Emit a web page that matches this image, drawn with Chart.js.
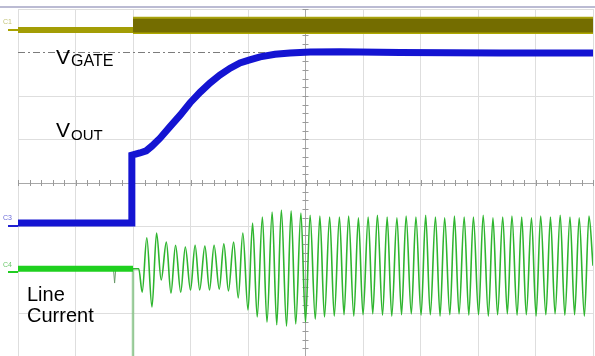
<!DOCTYPE html>
<html>
<head>
<meta charset="utf-8">
<script src="https://cdn.jsdelivr.net/npm/chart.js@4.4.1/dist/chart.umd.min.js"></script>
<style>
html, body { margin: 0; padding: 0; background: #fff; overflow: hidden; }
#wrap { position: relative; width: 595px; height: 357px; }
</style>
</head>
<body>
<div id="wrap"><canvas id="scope"></canvas></div>
<script>
// time in ms (100 ms/div), amplitude in divisions
const c1PreT = [0, 200];
const c1PreV = [3.52, 3.52];
const c1PostT = [200, 1000];
const c1HighV = [3.80, 3.80];
const c1LowV = [3.46, 3.46];

const gateRefT = [0, 1000];
const gateRefV = [3, 3];

const c3T = [0, 198, 198, 212, 223, 233, 247, 264, 282, 299, 317, 334, 351, 369, 386, 403, 421, 447, 473, 508, 560, 664, 838, 1000];
const c3V = [-0.92, -0.92, 0.64, 0.69, 0.74, 0.85, 1.03, 1.29, 1.56, 1.84, 2.09, 2.30, 2.48, 2.64, 2.76, 2.83, 2.90, 2.96, 2.99, 3.01, 3.02, 3.00, 2.99, 2.99];

const c4PreT = [0, 200];
const c4PreV = [-1.97, -1.97];
const c4SpikeT = [166, 168, 170];
const c4SpikeV = [-1.97, -2.30, -1.97];
const c4DropT = [200, 200];
const c4DropV = [-1.97, -4];

const c4PostT = [200, 210,
  216, 224, 233, 241, 249, 258, 266, 274, 283, 291, 300, 308, 316, 325, 333, 341, 350, 358,
  366, 375, 383, 391, 400, 408, 416, 425, 433, 442, 450, 458, 467, 475, 483, 492, 500, 508,
  517, 525, 533, 542, 550, 559, 567, 575, 584, 592, 600, 609, 617, 625, 634, 642, 650, 659,
  667, 675, 684, 692, 701, 709, 717, 726, 734, 742, 751, 759, 767, 776, 784, 792, 801, 809,
  818, 826, 834, 843, 851, 859, 868, 876, 884, 893, 901, 909, 918, 926, 934, 943, 951, 960,
  968, 976, 985, 993, 1000];
const c4PostV = [-1.97, -1.97,
  -2.51, -1.26, -2.85, -1.15, -2.23, -1.36, -2.53, -1.43, -2.51, -1.47, -2.46, -1.43, -2.46, -1.45, -2.46, -1.43, -2.44, -1.40,
  -2.48, -1.36, -2.64, -1.15, -2.92, -0.92, -3.08, -0.78, -3.20, -0.67, -3.26, -0.62, -3.29, -0.64, -3.24, -0.69, -3.20, -0.74,
  -3.13, -0.76, -3.08, -0.78, -3.06, -0.78, -3.03, -0.76, -3.06, -0.80, -3.03, -0.78, -3.01, -0.74, -3.04, -0.78, -3.06, -0.80,
  -3.03, -0.76, -3.01, -0.78, -3.04, -0.74, -3.03, -0.78, -3.06, -0.80, -3.03, -0.76, -3.01, -0.78, -3.04, -0.78, -3.03, -0.74,
  -3.06, -0.80, -3.03, -0.78, -3.01, -0.76, -3.04, -0.78, -3.03, -0.80, -3.06, -0.76, -3.03, -0.78, -3.01, -0.74, -3.04, -0.78,
  -3.03, -0.80, -3.06, -0.76, -1.90];

function pts(t, v) {
  return t.map((x, i) => ({ x: x, y: v[i] }));
}

function line(data, color, width, extra) {
  return Object.assign({
    data: data,
    borderColor: color,
    backgroundColor: color,
    borderWidth: width,
    pointRadius: 0,
    fill: false,
    tension: 0
  }, extra || {});
}

const scopeDecor = {
  id: 'scopeDecor',
  beforeDatasetsDraw(chart) {
    const ctx = chart.ctx;
    const xs = chart.scales.x, ys = chart.scales.y;
    const x0 = xs.getPixelForValue(500), y0 = ys.getPixelForValue(0);
    ctx.save();
    ctx.strokeStyle = '#9a9a9a';
    ctx.lineWidth = 1;
    ctx.beginPath();
    for (let t = 0; t <= 1000; t += 20) {
      const px = Math.round(xs.getPixelForValue(t)) + 0.5;
      ctx.moveTo(px, y0 - 3); ctx.lineTo(px, y0 + 3);
    }
    for (let d = -4; d <= 4.001; d += 0.2) {
      const py = Math.round(ys.getPixelForValue(d)) + 0.5;
      ctx.moveTo(x0 - 3, py); ctx.lineTo(x0 + 3, py);
    }
    ctx.stroke();
    ctx.restore();
  },
  afterDraw(chart) {
    const ctx = chart.ctx;
    ctx.save();
    // top frame line
    ctx.strokeStyle = '#a4a4c4';
    ctx.lineWidth = 1.5;
    ctx.beginPath(); ctx.moveTo(0, 7); ctx.lineTo(595, 7); ctx.stroke();

    // channel markers
    ctx.font = '7px "Liberation Sans", Arial';
    ctx.lineWidth = 2;
    [['C1', 24, 30, '#c4c47a', '#a8a200'], ['C3', 220, 226, '#6a6ad8', '#2020d0'], ['C4', 267, 272, '#6ac86a', '#22cc22']].forEach(m => {
      ctx.fillStyle = m[3];
      ctx.fillText(m[0], 3, m[1]);
      ctx.strokeStyle = m[4];
      ctx.beginPath(); ctx.moveTo(8, m[2]); ctx.lineTo(18, m[2]); ctx.stroke();
    });

    // annotations
    ctx.fillStyle = '#000';
    ctx.font = '21px "Liberation Sans", Arial';
    ctx.fillText('V', 56, 64);
    ctx.fillText('V', 56, 137);
    ctx.font = '16px "Liberation Sans", Arial';
    ctx.fillText('GATE', 71, 66);
    ctx.font = '15px "Liberation Sans", Arial';
    ctx.fillText('OUT', 71, 140);
    ctx.font = '20px "Liberation Sans", Arial';
    ctx.fillText('Line', 27, 301);
    ctx.fillText('Current', 27, 322);
    ctx.restore();
  }
};

new Chart(document.getElementById('scope'), {
  type: 'line',
  data: {
    datasets: [
      line(pts(c1PreT, c1PreV), '#a39d05', 6, { order: 1 }),
      line(pts(c1PostT, c1HighV), '#a8a20e', 2, { order: 2, fill: '+1', backgroundColor: '#746d00' }),
      line(pts(c1PostT, c1LowV), '#aea800', 3, { order: 3 }),
      line(pts(c3T, c3V), '#1414d2', 7, { order: 4 }),
      line(pts(c4PreT, c4PreV), '#1fd01f', 6, { order: 5 }),
      line(pts(c4SpikeT, c4SpikeV), '#6a9a6a', 1, { order: 6 }),
      line(pts(c4PostT, c4PostV), '#2fb52f', 1.6, { order: 7, cubicInterpolationMode: 'monotone' }),
      line(pts(c4DropT, c4DropV), 'rgba(120,190,120,0.7)', 2.5, { order: 8 }),
      line(pts(gateRefT, gateRefV), '#7c7c7c', 1, { order: 9, borderDash: [7, 3, 2, 3] })
    ]
  },
  options: {
    responsive: true,
    maintainAspectRatio: false,
    animation: false,
    parsing: false,
    layout: { padding: { left: 18, right: 2, top: 9, bottom: 0 } },
    plugins: { legend: { display: false }, tooltip: { enabled: false } },
    scales: {
      x: {
        type: 'linear', min: 0, max: 1000,
        ticks: { display: false, stepSize: 100 },
        border: { display: false },
        grid: { drawTicks: false, color: c => c.tick.value === 500 ? '#a8a8a8' : '#dedede' }
      },
      y: {
        type: 'linear', min: -4, max: 4,
        ticks: { display: false, stepSize: 1 },
        border: { display: false },
        grid: { drawTicks: false, color: c => c.tick.value === 0 ? '#a8a8a8' : (c.tick.value === 3 ? 'rgba(0,0,0,0)' : '#dedede') }
      }
    }
  },
  plugins: [scopeDecor]
});
</script>
</body>
</html>
